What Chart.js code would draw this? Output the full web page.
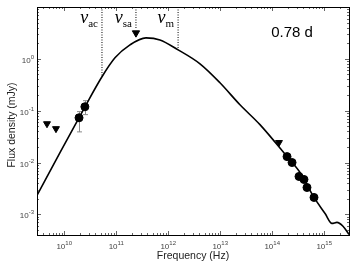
<!DOCTYPE html>
<html>
<head>
<meta charset="utf-8">
<script src="https://cdn.jsdelivr.net/npm/chart.js@4.4.1/dist/chart.umd.min.js"></script>
<style>
  body { margin: 0; background: #fff; }
  #wrap { width: 357px; height: 269px; }
</style>
</head>
<body>
<div id="wrap"><canvas id="myChart" width="357" height="269"></canvas></div>
<script>
// model curve (Hz, mJy)
const curveNu = [3.0e9, 8.3e9, 2.51e10, 5.33e10, 9.48e10, 1.84e11, 3.74e11, 6.95e11, 1.55e12, 4.09e12,
  9.9e12, 2.40e13, 5.82e13, 1.93e14, 3.43e14, 6.37e14, 1.04e15, 1.41e15, 1.76e15, 2.30e15, 3.0e15];
const curveFlux = [2.32e-3, 1.56e-2, 0.119, 0.451, 1.045, 1.86, 2.54, 2.32, 1.49, 0.80,
  0.345, 0.130, 0.0538, 0.0130, 6.43e-3, 2.12e-3, 1.04e-3, 6.7e-4, 7.0e-4, 5.9e-4, 4.1e-4];

// detections
const detNu = [1.93e10, 2.5e10, 1.93e14, 2.41e14, 3.28e14, 4.09e14, 4.67e14, 6.37e14];
const detFlux = [0.073, 0.119, 0.0130, 0.0100, 0.00538, 0.00471, 0.0033, 0.00212];
const detLow = [0.039, 0.084, null, null, null, null, null, null];
const detHigh = [0.096, 0.156, null, null, null, null, null, null];

// upper limits
const limNu = [4.67e9, 6.95e9, 1.35e14];
const limFlux = [0.056, 0.045, 0.0243];

// break frequencies
const breakNames = ["ac", "sa", "m"];
const breakNu = [5.33e10, 2.4e11, 1.55e12];
const breakEnd = [0.451, 3.7, 1.49];
const saArrowFlux = 3.16;

const xMin = 3e9, xMax = 3e15, yMin = 4e-4, yMax = 10;
const xDecades = [9, 10, 11, 12, 13, 14, 15];
const yDecades = [-4, -3, -2, -1, 0, 1];
const yLabelDecades = [-3, -2, -1, 0];

function pts(xs, ys) {
  return xs.map(function (x, i) { return { x: x, y: ys[i] }; });
}

function drawPow(ctx, x, y, exp, align) {
  ctx.font = '8px "Liberation Sans"';
  var w1 = ctx.measureText("10").width;
  ctx.font = '6px "Liberation Sans"';
  var w2 = ctx.measureText(String(exp)).width;
  var left = align === "right" ? x - w1 - w2 : x - (w1 + w2) / 2;
  ctx.textAlign = "left";
  ctx.textBaseline = "alphabetic";
  ctx.font = '8px "Liberation Sans"';
  ctx.fillText("10", left, y);
  ctx.font = '6px "Liberation Sans"';
  ctx.fillText(String(exp), left + w1, y - 4);
}

const framePlugin = {
  id: "frame",
  beforeDatasetsDraw: function (chart) {
    var ctx = chart.ctx, xs = chart.scales.x, ys = chart.scales.y;
    ctx.save();
    ctx.strokeStyle = "#8a8a8a";
    ctx.lineWidth = 1;
    detNu.forEach(function (nu, i) {
      if (detLow[i] == null) return;
      var px = Math.round(xs.getPixelForValue(nu)) + 0.5;
      var y1 = ys.getPixelForValue(detLow[i]), y2 = ys.getPixelForValue(detHigh[i]);
      ctx.beginPath();
      ctx.moveTo(px, y1); ctx.lineTo(px, y2);
      ctx.moveTo(px - 2.5, y1); ctx.lineTo(px + 2.5, y1);
      ctx.moveTo(px - 2.5, y2); ctx.lineTo(px + 2.5, y2);
      ctx.stroke();
    });
    ctx.restore();
  },
  afterDraw: function (chart) {
    var ctx = chart.ctx, a = chart.chartArea;
    var xs = chart.scales.x, ys = chart.scales.y;
    ctx.save();
    // ticks
    ctx.strokeStyle = "#666";
    ctx.lineWidth = 1;
    ctx.beginPath();
    xDecades.forEach(function (d) {
      for (var m = 1; m <= 9; m++) {
        var v = m * Math.pow(10, d);
        if (v < xMin || v > xMax) continue;
        var px = Math.round(xs.getPixelForValue(v)) + 0.5;
        var len = m === 1 ? 4 : 2;
        ctx.moveTo(px, a.bottom); ctx.lineTo(px, a.bottom - len);
        ctx.moveTo(px, a.top); ctx.lineTo(px, a.top + len);
      }
    });
    yDecades.forEach(function (d) {
      for (var m = 1; m <= 9; m++) {
        var v = m * Math.pow(10, d);
        if (v < yMin || v > yMax) continue;
        var py = Math.round(ys.getPixelForValue(v)) + 0.5;
        var len = m === 1 ? 4 : 2;
        ctx.moveTo(a.left, py); ctx.lineTo(a.left + len, py);
        ctx.moveTo(a.right, py); ctx.lineTo(a.right - len, py);
      }
    });
    ctx.stroke();
    // frame
    ctx.strokeStyle = "#000";
    ctx.strokeRect(Math.round(a.left) + 0.5, Math.round(a.top) + 0.5,
      Math.round(a.right - a.left), Math.round(a.bottom - a.top));
    // tick labels
    ctx.fillStyle = "#444";
    xDecades.forEach(function (d) {
      var v = Math.pow(10, d);
      if (v < xMin || v > xMax) return;
      drawPow(ctx, xs.getPixelForValue(v), a.bottom + 14, d, "center");
    });
    yLabelDecades.forEach(function (d) {
      drawPow(ctx, a.left - 3, ys.getPixelForValue(Math.pow(10, d)) + 4, d, "right");
    });
    // axis titles
    ctx.fillStyle = "#222";
    ctx.font = '10.5px "Liberation Sans"';
    ctx.textAlign = "center";
    ctx.textBaseline = "middle";
    ctx.fillText("Frequency (Hz)", (a.left + a.right) / 2, 256);
    ctx.save();
    ctx.translate(12, (a.top + a.bottom) / 2 + 4);
    ctx.rotate(-Math.PI / 2);
    ctx.fillText("Flux density (mJy)", 0, 0);
    ctx.restore();
    // epoch
    ctx.fillStyle = "#000";
    ctx.font = '15px "Liberation Sans"';
    ctx.fillText("0.78 d", 292, 33);
    // break labels
    ctx.textBaseline = "alphabetic";
    breakNu.forEach(function (nu, i) {
      var px = xs.getPixelForValue(nu);
      ctx.font = '11px "Liberation Serif"';
      var ws = ctx.measureText(breakNames[i]).width;
      ctx.font = 'italic 18px "Liberation Serif"';
      var wn = ctx.measureText("\u03bd").width;
      var left = px - 4 - ws - wn;
      ctx.textAlign = "left";
      ctx.fillText("\u03bd", left, 23);
      ctx.font = '11px "Liberation Serif"';
      ctx.fillText(breakNames[i], left + wn, 27);
    });
    ctx.restore();
  }
};

new Chart("myChart", {
  type: "scatter",
  data: {
    datasets: [{
      label: "model",
      data: pts(curveNu, curveFlux),
      showLine: true,
      borderColor: "#000",
      borderWidth: 1.6,
      pointRadius: 0,
      cubicInterpolationMode: "monotone",
      order: 5
    }, {
      label: "detections",
      data: pts(detNu, detFlux),
      pointRadius: 4,
      backgroundColor: "#000",
      borderColor: "#000",
      order: 1
    }, {
      label: "upper limits",
      data: pts(limNu, limFlux),
      pointStyle: "triangle",
      rotation: 180,
      pointRadius: 4,
      backgroundColor: "#000",
      borderColor: "#000",
      order: 1
    }, {
      label: "sa arrow",
      data: [{ x: breakNu[1], y: saArrowFlux }],
      pointStyle: "triangle",
      rotation: 180,
      pointRadius: 4.2,
      backgroundColor: "#000",
      borderColor: "#000",
      order: 1
    }].concat(breakNu.map(function (nu, i) {
      return {
        label: "nu_" + breakNames[i],
        data: [{ x: nu, y: yMax }, { x: nu, y: breakEnd[i] }],
        showLine: true,
        borderColor: "#000",
        borderWidth: 1,
        borderDash: [1, 1.5],
        pointRadius: 0,
        order: 4
      };
    }))
  },
  options: {
    responsive: false,
    animation: false,
    events: [],
    layout: { padding: { left: 37, top: 7, right: 8, bottom: 34 } },
    plugins: { legend: { display: false }, tooltip: { enabled: false } },
    scales: {
      x: { type: "logarithmic", min: xMin, max: xMax, display: false },
      y: { type: "logarithmic", min: yMin, max: yMax, display: false }
    }
  },
  plugins: [framePlugin]
});
</script>
</body>
</html>
